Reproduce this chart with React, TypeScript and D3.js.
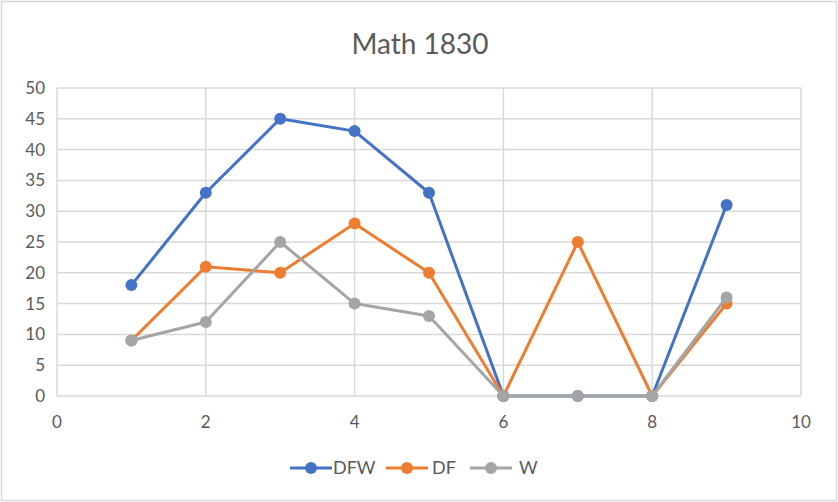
import React, { useEffect, useRef } from 'react'
import * as d3 from 'd3'

const width = 838
const height = 502
const margin = { top: 88, left: 57, bottom: 106, right: 37 }
const iwidth = width - margin.left - margin.right
const iheight = height - margin.top - margin.bottom

const xValues = [1, 2, 3, 4, 5, 6, 7, 8, 9]
const dfw = [18, 33, 45, 43, 33, 0, 0, 0, 31]
const df = [9, 21, 20, 28, 20, 0, 25, 0, 15]
const w = [9, 12, 25, 15, 13, 0, 0, 0, 16]
const xTicks = [0, 2, 4, 6, 8, 10]
const yTicks = [0, 5, 10, 15, 20, 25, 30, 35, 40, 45, 50]

const series = [
  { name: 'DFW', values: dfw, color: '#4472C4' },
  { name: 'DF', values: df, color: '#ED7D31' },
  { name: 'W', values: w, color: '#A5A5A5' },
]

const font = 'Lato, "Open Sans", sans-serif'

const App = () => {
  const canvasR = useRef<HTMLDivElement>(null)

  useEffect(() => {
    const canvas = d3.select(canvasR.current)
    canvas.selectAll('*').remove()
    const svg = canvas.append('svg').attr('width', width).attr('height', height)

    svg.append('rect')
      .attr('x', 1.5).attr('y', 1.5)
      .attr('width', width - 3).attr('height', height - 3)
      .attr('fill', 'white').attr('stroke', '#d9d9d9').attr('stroke-width', 1.5)

    svg.append('text')
      .attr('x', 420).attr('y', 54)
      .attr('text-anchor', 'middle')
      .attr('font-family', font).attr('font-size', 28)
      .attr('fill', '#595959')
      .text('Math 1830')

    const g = svg.append('g').attr('transform', `translate(${margin.left},${margin.top})`)

    const x = d3.scaleLinear().domain([0, 10]).range([0, iwidth])
    const y = d3.scaleLinear().domain([0, 50]).range([iheight, 0])

    // grid
    g.selectAll('.hgrid').data(yTicks).enter().append('line')
      .attr('x1', 0).attr('x2', iwidth)
      .attr('y1', d => y(d)).attr('y2', d => y(d))
      .attr('stroke', '#d9d9d9').attr('stroke-width', 1.5)
    g.selectAll('.vgrid').data(xTicks).enter().append('line')
      .attr('y1', 0).attr('y2', iheight)
      .attr('x1', d => x(d)).attr('x2', d => x(d))
      .attr('stroke', '#d9d9d9').attr('stroke-width', 1.5)

    g.selectAll('.ylab').data(yTicks).enter().append('text')
      .attr('x', -12).attr('y', d => y(d))
      .attr('dy', '0.35em')
      .attr('text-anchor', 'end')
      .attr('font-family', font).attr('font-size', 17)
      .attr('fill', '#595959')
      .text(d => d)

    g.selectAll('.xlab').data(xTicks).enter().append('text')
      .attr('x', d => x(d)).attr('y', iheight + 26)
      .attr('dy', '0.35em')
      .attr('text-anchor', 'middle')
      .attr('font-family', font).attr('font-size', 17)
      .attr('fill', '#595959')
      .text(d => d)

    const line = d3.line<number>()
      .x((d, i) => x(xValues[i]))
      .y(d => y(d))

    series.forEach(s => {
      g.append('path')
        .datum(s.values)
        .attr('fill', 'none')
        .attr('stroke', s.color)
        .attr('stroke-width', 3)
        .attr('stroke-linejoin', 'round')
        .attr('d', line)
      g.selectAll(`.dot-${s.name}`).data(s.values).enter().append('circle')
        .attr('cx', (d, i) => x(xValues[i]))
        .attr('cy', d => y(d))
        .attr('r', 6)
        .attr('fill', s.color)
    })

    // legend
    const legend = svg.append('g').attr('transform', `translate(0, 468)`)
    const items = [
      { x0: 290, tx: 333 },
      { x0: 386, tx: 432 },
      { x0: 470, tx: 519 },
    ]
    series.forEach((s, i) => {
      const it = items[i]
      legend.append('line')
        .attr('x1', it.x0).attr('x2', it.x0 + 42)
        .attr('y1', 0).attr('y2', 0)
        .attr('stroke', s.color).attr('stroke-width', 3)
      legend.append('circle')
        .attr('cx', it.x0 + 21).attr('cy', 0).attr('r', 6)
        .attr('fill', s.color)
      legend.append('text')
        .attr('x', it.tx).attr('y', 0).attr('dy', '0.35em')
        .attr('font-family', font).attr('font-size', 18)
        .attr('fill', '#595959')
        .text(s.name)
    })
  }, [])

  return (
    <div style={{ position: 'absolute', left: 0, top: 0 }}>
      <div ref={canvasR}></div>
    </div>
  )
}

export default App
